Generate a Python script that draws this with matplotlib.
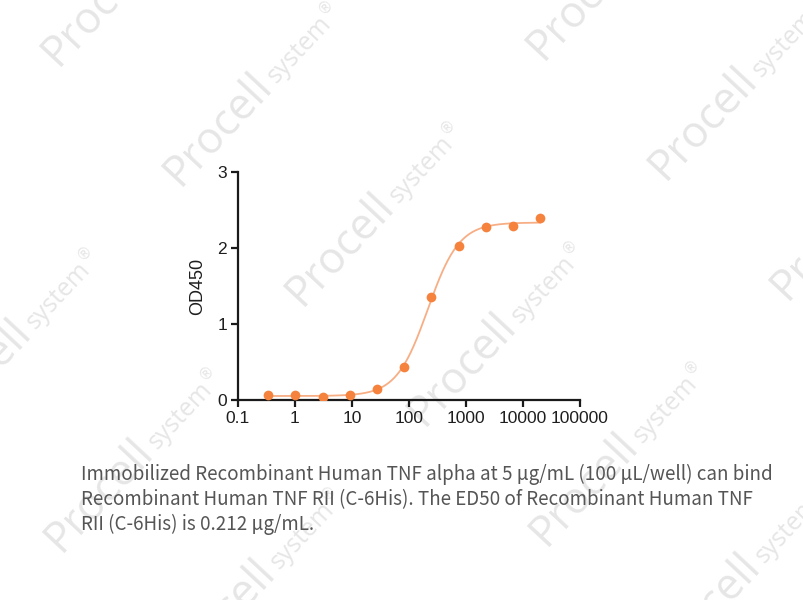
import numpy as np
import matplotlib
matplotlib.use("Agg")
import matplotlib.pyplot as plt

# 3-fold dilution series (ng/mL) and measured OD450
conc = [0.339, 1.02, 3.05, 9.14, 27.4, 82.3, 247, 741, 2222, 6667, 20000]
od450 = [0.07, 0.06, 0.04, 0.07, 0.14, 0.44, 1.35, 2.03, 2.27, 2.29, 2.39]

x_ticks = [0.1, 1, 10, 100, 1000, 10000, 100000]
x_tick_labels = ["0.1", "1", "10", "100", "1000", "10000", "100000"]
y_ticks = [0, 1, 2, 3]

caption = [
    "Immobilized Recombinant Human TNF alpha at 5 µg/mL (100 µL/well) can bind",
    "Recombinant Human TNF RII (C-6His). The ED50 of Recombinant Human TNF",
    "RII (C-6His) is 0.212 µg/mL.",
]

POINT_COLOR = "#f5823d"
LINE_COLOR = "#f7ae85"
WM_COLOR = "#e6e6e6"


def fit_4pl(x, y):
    # grid search on logEC50 / hill, bottom & top by linear least squares
    lx = np.log10(x)
    best = None
    for lec in np.linspace(1.0, 4.0, 301):
        for h in np.linspace(0.5, 3.0, 126):
            f = 1.0 / (1.0 + 10 ** ((lec - lx) * h))
            A = np.column_stack([1 - f, f])
            coef, *_ = np.linalg.lstsq(A, y, rcond=None)
            err = np.sum((A @ coef - y) ** 2)
            if best is None or err < best[0]:
                best = (err, lec, h, coef)
    _, lec, h, (bottom, top) = best
    return lambda xx: bottom + (top - bottom) / (1.0 + 10 ** ((lec - np.log10(xx)) * h))


model = fit_4pl(np.array(conc), np.array(od450))
xs = np.logspace(np.log10(conc[0]), np.log10(conc[-1]), 400)

fig = plt.figure(figsize=(8.04, 6.0), dpi=100)
W, H = 804, 600
fig.canvas.draw()
rend = fig.canvas.get_renderer()


def text_width(s, size, family):
    t = fig.text(0, 0, s, fontsize=size, family=family)
    w = t.get_window_extent(rend).width
    t.remove()
    return w


# watermark tiles
ang = 47
d = np.array([np.cos(np.radians(ang)), np.sin(np.radians(ang))])
nrm = np.array([-d[1], d[0]])
fs_p = 26 * 138 / text_width("Procell", 26, "Open Sans")
fs_s = 14 * 82 / text_width("system", 14, "Open Sans")
w_p = text_width("Procell", fs_p, "Open Sans")
w_s = text_width("system", fs_s, "Open Sans")
base = np.array([180, 187])
v1 = np.array([122, 120])
v2 = np.array([485, -6])
for i in range(-4, 7):
    for j in range(-2, 3):
        px, py = base + i * v1 + j * v2
        if px < -300 or px > 820 or py < -20 or py > 820:
            continue
        p = np.array([px, H - py], dtype=float)
        q = p + d * (w_p + 4)
        r = q + d * (w_s + 1) + nrm * 12
        for pos, s, size, fam in [(p, "Procell", fs_p, "Open Sans"),
                                  (q, "system", fs_s, "Open Sans"),
                                  (r, "®", 11, "DejaVu Sans")]:
            fig.text(pos[0] / W, pos[1] / H, s, fontsize=size, color=WM_COLOR,
                     family=fam, rotation=ang, rotation_mode="anchor",
                     ha="left", va="baseline", zorder=-5)

ax = fig.add_axes([238 / W, 1 - 400 / H, (580 - 238) / W, (400 - 172) / H])
ax.set_facecolor("none")
ax.plot(xs, model(xs), color=LINE_COLOR, lw=1.3, zorder=2)
ax.plot(conc, od450, "o", color=POINT_COLOR, ms=7, mec="none", zorder=3)

ax.set_xscale("log")
ax.set_xlim(0.1, 100000)
ax.set_ylim(0, 3)
ax.set_xticks(x_ticks)
ax.set_xticklabels(x_tick_labels)
ax.minorticks_off()
ax.set_yticks(y_ticks)
for s in ["top", "right"]:
    ax.spines[s].set_visible(False)
for s in ["left", "bottom"]:
    ax.spines[s].set_linewidth(1.6)
    ax.spines[s].set_color("#1a1a1a")
ax.tick_params(length=5, width=1.6, color="#1a1a1a", labelsize=12.5,
               labelcolor="#1e1e1e", pad=3)
for lab in ax.get_xticklabels() + ax.get_yticklabels():
    lab.set_family("Liberation Sans")
ax.set_ylabel("OD450", fontsize=13, family="Liberation Sans", color="#1e1e1e",
              labelpad=8)

# caption, sized so the first line spans the same width as the original
cap_fam = ["Noto Sans CJK SC", "DejaVu Sans"]
fs = 13 * 692 / text_width(caption[0], 13, cap_fam)
for k, line in enumerate(caption):
    fig.text(81 / W, 1 - (480 + 25 * k) / H, line, fontsize=fs,
             family=cap_fam, color="#555555")

fig.savefig("out.png", dpi=100)
